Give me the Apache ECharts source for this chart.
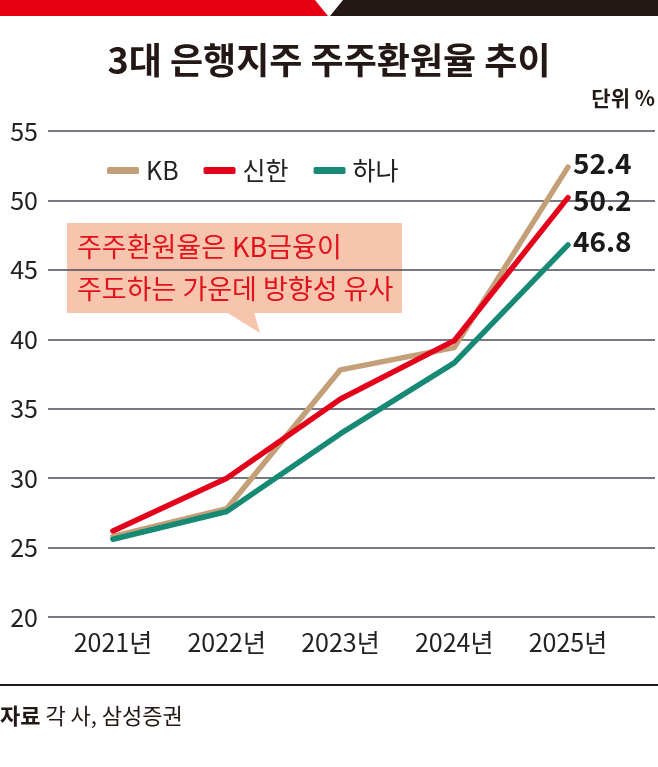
<!DOCTYPE html>
<html>
<head>
<meta charset="utf-8">
<script src="https://cdn.jsdelivr.net/npm/echarts@6/dist/echarts.min.js"></script>
<style>
  html, body { margin: 0; padding: 0; background: #fff; }
  #chart { width: 658px; height: 767px; }
</style>
</head>
<body>
<div id="chart"></div>
<script>
// 데이터
const years = ["2021년", "2022년", "2023년", "2024년", "2025년"];
const kbValues = [25.8, 27.8, 37.8, 39.4, 52.4];
const shinhanValues = [26.2, 30.0, 35.7, 39.9, 50.2];
const hanaValues = [25.6, 27.6, 33.2, 38.3, 46.8];
const yTicks = [20, 25, 30, 35, 40, 45, 50, 55];

const FONT = "'Noto Sans CJK KR', 'Noto Sans', sans-serif";

// [연도 인덱스, 값] 형태로 변환
function toPoints(values) {
  return values.map(function(v, i) { return [i, v]; });
}

function lineSeries(name, color, values, labelOffset) {
  return {
    name: name,
    type: "line",
    data: toPoints(values),
    symbol: "none",
    lineStyle: { color: color, width: 5.5, cap: "round", join: "round" },
    itemStyle: { color: color },
    endLabel: {
      show: true,
      formatter: function(p) { return p.value[1].toFixed(1); },
      color: "#1a1a1a",
      fontFamily: FONT,
      fontWeight: "bold",
      fontSize: 28,
      distance: 5,
      offset: labelOffset
    },
    z: 3
  };
}

let chart = echarts.init(document.getElementById("chart"), null, { renderer: "canvas" });

let option = {
  backgroundColor: "#fff",
  animation: false,
  textStyle: { fontFamily: FONT },
  grid: { left: 48, right: 3, top: 131, bottom: 150, containLabel: false },
  legend: {
    left: 102,
    top: 153,
    itemWidth: 32,
    itemHeight: 7,
    itemGap: 25,
    icon: "roundRect",
    textStyle: { fontSize: 25, color: "#222", fontFamily: FONT, padding: [0, 0, 0, 2] },
    data: ["KB", "신한", "하나"]
  },
  xAxis: {
    type: "value",
    min: -0.571,
    max: 4.765,
    axisLine: { show: false },
    axisTick: { show: false },
    splitLine: { show: false },
    axisLabel: {
      customValues: [0, 1, 2, 3, 4],
      formatter: function(v) { return years[Math.round(v)]; },
      fontSize: 25,
      color: "#222",
      margin: 13,
      fontFamily: FONT
    }
  },
  yAxis: {
    type: "value",
    min: yTicks[0],
    max: yTicks[yTicks.length - 1],
    interval: 5,
    axisLine: { show: false },
    axisTick: { show: false },
    axisLabel: { fontSize: 25, color: "#222", margin: 10, fontFamily: FONT },
    splitLine: { lineStyle: { color: "#4b4b5a", width: 1.5 } }
  },
  series: [
    lineSeries("KB", "#c4a078", kbValues, [0, -4]),
    lineSeries("신한", "#e3001b", shinhanValues, [0, 3]),
    lineSeries("하나", "#178a76", hanaValues, [0, -4])
  ],
  graphic: [
    // 상단 띠
    { type: "polygon", shape: { points: [[0, 0], [315, 0], [328, 16], [0, 16]] }, style: { fill: "#e60012" } },
    { type: "polygon", shape: { points: [[343, 0], [658, 0], [658, 16], [330, 16]] }, style: { fill: "#231815" } },
    // 제목
    {
      type: "text", x: 329, y: 60,
      style: { text: "3대 은행지주 주주환원율 추이", align: "center", verticalAlign: "middle",
        fontSize: 36, fontWeight: "bold", fill: "#231815", fontFamily: FONT }
    },
    {
      type: "text", x: 655, y: 98,
      style: { text: "단위 %", align: "right", verticalAlign: "middle",
        fontSize: 21, fontWeight: "bold", fill: "#231815", fontFamily: FONT }
    },
    // 말풍선
    {
      type: "group", z: 10,
      children: [
        { type: "rect", shape: { x: 67, y: 223, width: 335, height: 90 }, style: { fill: "#f7c5ad" } },
        { type: "polygon", shape: { points: [[226, 312], [254, 312], [260, 333]] }, style: { fill: "#f7c5ad" } },
        {
          type: "text", x: 77, y: 247,
          style: { text: "주주환원율은 KB금융이", verticalAlign: "middle", fontSize: 27, fill: "#e2121c", fontFamily: FONT }
        },
        {
          type: "text", x: 77, y: 289,
          style: { text: "주도하는 가운데 방향성 유사", verticalAlign: "middle", fontSize: 27, fill: "#e2121c", fontFamily: FONT }
        }
      ]
    },
    // 하단 구분선 및 출처
    { type: "rect", shape: { x: 0, y: 684, width: 658, height: 2 }, style: { fill: "#231815" } },
    {
      type: "text", x: 0, y: 716,
      style: {
        text: "{b|자료} 각 사, 삼성증권",
        verticalAlign: "middle",
        fontSize: 22, fill: "#231815", fontFamily: FONT,
        rich: { b: { fontWeight: "bold", fontSize: 22, fill: "#231815", fontFamily: FONT } }
      }
    }
  ]
};

chart.setOption(option);
</script>
</body>
</html>
